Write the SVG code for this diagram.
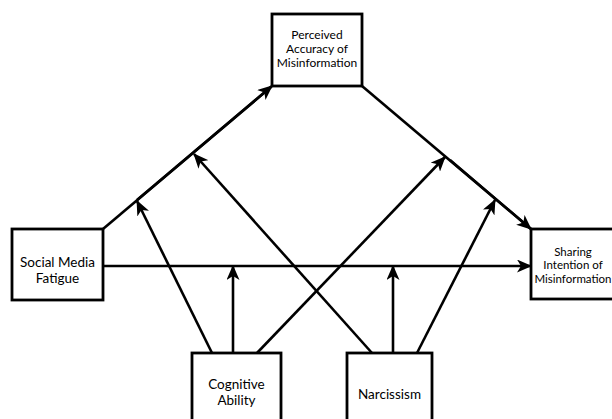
<svg xmlns="http://www.w3.org/2000/svg" width="612" height="419" viewBox="0 0 612 419">
<style>
.box{fill:#fff;stroke:#000;stroke-width:2.8}
.ln{fill:none;stroke:#000;stroke-width:2.6}
.ar{marker-end:url(#ah)}
text{font-family:Lato,"Open Sans","Liberation Sans",sans-serif;fill:#000;text-anchor:middle}
.s{font-size:11.5px}
.t{font-size:12px}
.m{font-size:13.5px}
</style>
<defs>
<marker id="ah" markerUnits="userSpaceOnUse" markerWidth="15" markerHeight="13" refX="14" refY="6.5" orient="auto" viewBox="0 0 15 13">
<path d="M0,0 L15,6.5 L0,13 L4,6.5 z" fill="#000"/>
</marker>
</defs>
<rect width="612" height="419" fill="#fff"/>
<g id="connectors">
<line class="ln" x1="103" y1="229" x2="271" y2="87"/>
<path class="ln ar" d="M137,200 L272,86"/>
<line class="ln" x1="362" y1="86" x2="531" y2="229"/>
<path class="ln ar" d="M450,160 L531,229"/>
<line class="ln ar" x1="103" y1="266" x2="531" y2="266"/>
<line class="ln ar" x1="212" y1="353" x2="137" y2="201"/>
<line class="ln ar" x1="233" y1="353" x2="233" y2="266"/>
<line class="ln ar" x1="257" y1="353" x2="445" y2="157"/>
<line class="ln ar" x1="372" y1="353" x2="194" y2="154"/>
<line class="ln ar" x1="393" y1="353" x2="393" y2="266"/>
<line class="ln ar" x1="417" y1="353" x2="495" y2="200"/>
</g>
<g id="perceived">
<rect class="box" x="272" y="14" width="90" height="72"/>
<text class="t" x="317" y="39">Perceived</text>
<text class="t" x="317" y="53">Accuracy of</text>
<text class="t" x="317" y="67">Misinformation</text>
</g>
<g id="fatigue">
<rect class="box" x="12" y="229" width="91" height="71"/>
<text class="m" x="57.5" y="267">Social Media</text>
<text class="m" x="57.5" y="283">Fatigue</text>
</g>
<g id="sharing">
<rect class="box" x="531" y="229" width="90" height="70"/>
<text class="s" x="573" y="256">Sharing</text>
<text class="s" x="573" y="269">Intention of</text>
<text class="s" x="573" y="283">Misinformation</text>
</g>
<g id="cognitive">
<rect class="box" x="192" y="353" width="89" height="75"/>
<text class="m" x="236.5" y="389">Cognitive</text>
<text class="m" x="236.5" y="405">Ability</text>
</g>
<g id="narcissism">
<rect class="box" x="347" y="353" width="85" height="75"/>
<text class="m" x="389.5" y="399">Narcissism</text>
</g>
</svg>
